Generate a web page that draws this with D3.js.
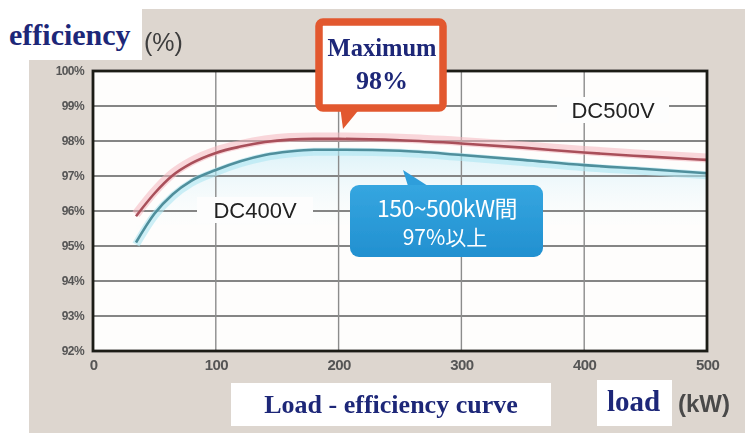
<!DOCTYPE html>
<html>
<head>
<meta charset="utf-8">
<script src="https://cdn.jsdelivr.net/npm/d3@7/dist/d3.min.js"></script>
<style>
  html, body { margin: 0; padding: 0; background: #ffffff; }
  svg { display: block; }
</style>
</head>
<body>
<svg id="chart" width="745" height="433"></svg>
<script>
// Load (kW) sample points and efficiency (%) for each DC input voltage
const loadKW   = [35, 50, 65, 80, 100, 120, 140, 160, 180, 200, 250, 300, 350, 400, 450, 500];
const dc500V   = [95.85, 96.5, 97.02, 97.36, 97.66, 97.84, 97.97, 98.04, 98.06, 98.06, 98.02, 97.93, 97.81, 97.67, 97.56, 97.46];
const dc400V   = [95.1, 95.92, 96.48, 96.86, 97.17, 97.42, 97.6, 97.7, 97.75, 97.75, 97.72, 97.6, 97.46, 97.31, 97.2, 97.08];

const xTicks = [0, 100, 200, 300, 400, 500];
const yTicks = [92, 93, 94, 95, 96, 97, 98, 99, 100];
const yTickLabels = ["92%", "93%", "94%", "95%", "96%", "97%", "98%", "99%", "100%"];

const svg = d3.select("#chart");

const x = d3.scaleLinear().domain([0, 500]).range([93, 707]);
const y = d3.scaleLinear().domain([92, 100]).range([351, 71]);

// Page background
svg.append("rect").attr("x", 0).attr("y", 0).attr("width", 745).attr("height", 433).attr("fill", "#ffffff");
svg.append("rect").attr("x", 29).attr("y", 9).attr("width", 716).attr("height", 424).attr("fill", "#ddd6cf");

const defs = svg.append("defs");
defs.append("filter").attr("id", "soft")
  .attr("x", "-5%").attr("y", "-5%").attr("width", "110%").attr("height", "110%")
  .append("feGaussianBlur").attr("stdDeviation", 0.55);

const fillGrad = defs.append("linearGradient").attr("id", "underFill")
  .attr("x1", 0).attr("y1", 0).attr("x2", 0).attr("y2", 1);
fillGrad.append("stop").attr("offset", "0%").attr("stop-color", "#d8f1f8").attr("stop-opacity", 0.9);
fillGrad.append("stop").attr("offset", "100%").attr("stop-color", "#ffffff").attr("stop-opacity", 0);

const boxGrad = defs.append("linearGradient").attr("id", "boxGrad")
  .attr("x1", 0).attr("y1", 0).attr("x2", 0).attr("y2", 1);
boxGrad.append("stop").attr("offset", "0%").attr("stop-color", "#35a6e0");
boxGrad.append("stop").attr("offset", "100%").attr("stop-color", "#2290d0");

const chart = svg.append("g").attr("filter", "url(#soft)");

// Plot background
chart.append("rect")
  .attr("x", x(0)).attr("y", y(100))
  .attr("width", x(500) - x(0)).attr("height", y(92) - y(100))
  .attr("fill", "#fefdfc");

// Soft tint under the DC400V curve
const pts400 = loadKW.map((k, i) => [k, dc400V[i]]);
const pts500 = loadKW.map((k, i) => [k, dc500V[i]]);
chart.append("path")
  .datum(pts400)
  .attr("d", d3.area().x(d => x(d[0])).y0(y(95.6)).y1(d => y(d[1])).curve(d3.curveMonotoneX))
  .attr("fill", "url(#underFill)");

// Grid lines
chart.append("g")
  .selectAll("line")
  .data(yTicks.filter(v => v > 92 && v < 100))
  .join("line")
  .attr("x1", x(0)).attr("x2", x(500))
  .attr("y1", d => y(d)).attr("y2", d => y(d))
  .attr("stroke", "#858585").attr("stroke-width", 2);

chart.append("g")
  .selectAll("line")
  .data(xTicks.filter(v => v > 0 && v < 500))
  .join("line")
  .attr("x1", d => x(d)).attr("x2", d => x(d))
  .attr("y1", y(100)).attr("y2", y(92))
  .attr("stroke", "#8c8c8c").attr("stroke-width", 1.4);

// Series labels sit on white patches that cut the grid lines
function seriesLabel(text, cx, cy, w) {
  chart.append("rect").attr("x", cx - w / 2).attr("y", cy - 13).attr("width", w).attr("height", 26).attr("fill", "#fdfdfd");
  chart.append("text").attr("x", cx).attr("y", cy + 8)
    .attr("text-anchor", "middle")
    .attr("font-family", "Liberation Sans, Arial, sans-serif")
    .attr("font-size", 22).attr("fill", "#222")
    .text(text);
}
seriesLabel("DC500V", 613, 110, 112);
seriesLabel("DC400V", 255, 210, 116);

// Curves with a pale halo
const line = d3.line().x(d => x(d[0])).y(d => y(d[1])).curve(d3.curveMonotoneX);
chart.append("path").datum(pts500).attr("d", line)
  .attr("fill", "none").attr("stroke", "#f4b6bd").attr("stroke-width", 9).attr("stroke-opacity", 0.55)
  .attr("transform", "translate(0,-2)");
chart.append("path").datum(pts400).attr("d", line)
  .attr("fill", "none").attr("stroke", "#aee6f2").attr("stroke-width", 8).attr("stroke-opacity", 0.6)
  .attr("transform", "translate(0,2)");
chart.append("path").datum(pts500).attr("d", line)
  .attr("fill", "none").attr("stroke", "#a9505a").attr("stroke-width", 2.6);
chart.append("path").datum(pts400).attr("d", line)
  .attr("fill", "none").attr("stroke", "#4f8f9c").attr("stroke-width", 2.6);

// Frame
chart.append("rect")
  .attr("x", x(0)).attr("y", y(100))
  .attr("width", x(500) - x(0)).attr("height", y(92) - y(100))
  .attr("fill", "none").attr("stroke", "#1c1a18").attr("stroke-width", 2.8);

// Axes (labels only, the frame draws the lines)
const yAxis = d3.axisLeft(y).tickValues(yTicks)
  .tickFormat((d, i) => yTickLabels[i]).tickSize(0).tickPadding(9);
const gy = chart.append("g").attr("transform", `translate(${x(0)},0)`).call(yAxis);
gy.select(".domain").remove();
gy.selectAll("text")
  .attr("font-family", "Liberation Sans Narrow, Liberation Sans, Arial, sans-serif")
  .attr("font-weight", "bold").attr("font-size", 12).attr("fill", "#555")
  .attr("letter-spacing", -0.6);

const xAxis = d3.axisBottom(x).tickValues(xTicks).tickFormat(d3.format("d")).tickSize(0).tickPadding(8);
const gx = chart.append("g").attr("transform", `translate(0,${y(92)})`).call(xAxis);
gx.select(".domain").remove();
gx.selectAll("text")
  .attr("font-family", "Liberation Sans Narrow, Liberation Sans, Arial, sans-serif")
  .attr("font-weight", "bold").attr("font-size", 15).attr("fill", "#555")
  .attr("letter-spacing", -0.6);

// Blue callout: efficiency across the 150–500 kW range
const blue = chart.append("g");
blue.append("path")
  .attr("d", "M403,170 L428,186 L408,186 Z")
  .attr("fill", "#2f9edb");
blue.append("rect")
  .attr("x", 350).attr("y", 185).attr("width", 193).attr("height", 72).attr("rx", 9)
  .attr("fill", "url(#boxGrad)");
blue.append("text").attr("x", 447).attr("y", 217).attr("text-anchor", "middle")
  .attr("font-family", "Noto Sans CJK JP, Noto Sans, sans-serif")
  .attr("font-size", 23).attr("fill", "#ffffff").attr("letter-spacing", -0.5)
  .text("150~500kW間");
blue.append("text").attr("x", 445).attr("y", 245).attr("text-anchor", "middle")
  .attr("font-family", "Noto Sans CJK JP, Noto Sans, sans-serif")
  .attr("font-size", 21).attr("fill", "#ffffff")
  .text("97%以上");

// Left axis title
svg.append("rect").attr("x", 0).attr("y", 0).attr("width", 142).attr("height", 60).attr("fill", "#ffffff");
svg.append("text").attr("x", 9).attr("y", 45)
  .attr("font-family", "Liberation Serif, Times New Roman, serif")
  .attr("font-weight", "bold").attr("font-size", 30).attr("fill", "#1d2778")
  .text("efficiency");
svg.append("text").attr("x", 144).attr("y", 51)
  .attr("font-family", "Liberation Sans Narrow, Liberation Sans, Arial, sans-serif")
  .attr("font-size", 25).attr("fill", "#3e3e3e").attr("filter", "url(#soft)")
  .text("(%)");

// Maximum callout
const maxBox = svg.append("g");
maxBox.append("path")
  .attr("d", "M340,106 L343,129 L362,106 Z")
  .attr("fill", "#e2582f");
maxBox.append("rect")
  .attr("x", 319).attr("y", 22).attr("width", 124).attr("height", 86).attr("rx", 4)
  .attr("fill", "#ffffff").attr("stroke", "#e2582f").attr("stroke-width", 7.5);
maxBox.append("text").attr("x", 382).attr("y", 56).attr("text-anchor", "middle")
  .attr("font-family", "Liberation Serif, Times New Roman, serif")
  .attr("font-weight", "bold").attr("font-size", 24.5).attr("fill", "#1d2778")
  .text("Maximum");
maxBox.append("text").attr("x", 382).attr("y", 89).attr("text-anchor", "middle")
  .attr("font-family", "Liberation Serif, Times New Roman, serif")
  .attr("font-weight", "bold").attr("font-size", 26).attr("fill", "#1d2778")
  .text("98%");

// Bottom captions
svg.append("rect").attr("x", 231).attr("y", 383).attr("width", 320).attr("height", 43).attr("fill", "#ffffff");
svg.append("text").attr("x", 391).attr("y", 413).attr("text-anchor", "middle")
  .attr("font-family", "Liberation Serif, Times New Roman, serif")
  .attr("font-weight", "bold").attr("font-size", 26).attr("fill", "#1d2778")
  .text("Load - efficiency curve");

svg.append("rect").attr("x", 597).attr("y", 380).attr("width", 75).attr("height", 46).attr("fill", "#ffffff");
svg.append("text").attr("x", 607).attr("y", 411)
  .attr("font-family", "Liberation Serif, Times New Roman, serif")
  .attr("font-weight", "bold").attr("font-size", 29).attr("fill", "#1d2778")
  .text("load");
svg.append("text").attr("x", 678).attr("y", 412)
  .attr("font-family", "Liberation Sans Narrow, Liberation Sans, Arial, sans-serif")
  .attr("font-weight", "bold").attr("font-size", 24).attr("fill", "#4a4a4a").attr("filter", "url(#soft)")
  .text("(kW)");
</script>
</body>
</html>
